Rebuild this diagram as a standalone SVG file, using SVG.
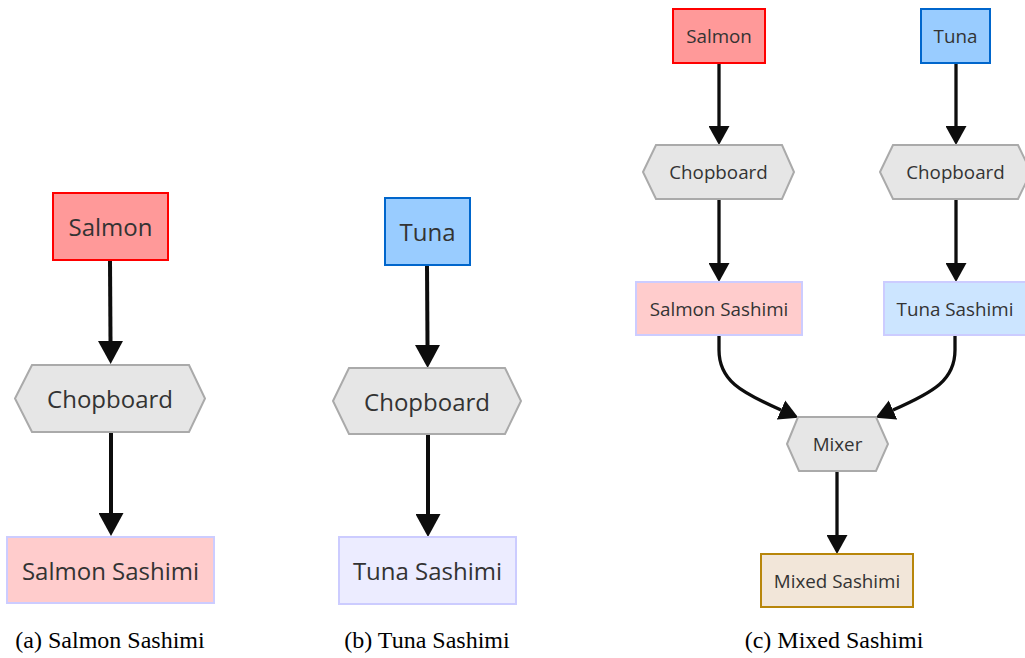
<svg xmlns="http://www.w3.org/2000/svg" width="1025" height="658" viewBox="0 0 1025 658">
  <style>
    .lbl { font-family: "Open Sans", "Noto Sans", sans-serif; fill: #333333; text-anchor: middle; dominant-baseline: central; }
    .big { font-size: 24px; }
    .small { font-size: 18.8px; }
    .cap { font-family: "Liberation Serif", "Times New Roman", serif; font-size: 24px; fill: #000000; text-anchor: middle; }
    .salmon { fill: #ff9999; stroke: #ff0000; stroke-width: 2; }
    .tuna { fill: #99ccff; stroke: #0066cc; stroke-width: 2; }
    .tool { fill: #e6e6e6; stroke: #aaaaaa; stroke-width: 2; }
    .sashimi-s { fill: #ffcccc; stroke: #ccccff; stroke-width: 2; }
    .sashimi-t { fill: #ececff; stroke: #ccccff; stroke-width: 2; }
    .sashimi-tc { fill: #cce5ff; stroke: #ccccff; stroke-width: 2; }
    .mixed { fill: #f2e6d9; stroke: #b8860b; stroke-width: 2; }
    .edge { fill: none; stroke: #0d0d0d; }
    .edge-big { stroke-width: 4; marker-end: url(#head-big); }
    .edge-small { stroke-width: 3.3; marker-end: url(#head-small); }
  </style>
  <defs>
    <marker id="head-big" markerUnits="userSpaceOnUse" markerWidth="25" markerHeight="25" viewBox="0 0 25 25" refX="0" refY="12.5" orient="auto">
      <path d="M0,0 L23,12.5 L0,25 z" fill="#0d0d0d"/>
    </marker>
    <marker id="head-small" markerUnits="userSpaceOnUse" markerWidth="21" markerHeight="21" viewBox="0 0 21 21" refX="0" refY="10.5" orient="auto">
      <path d="M0,0 L19,10.5 L0,21 z" fill="#0d0d0d"/>
    </marker>
  </defs>

  <rect width="1025" height="658" fill="#ffffff"/>

  <!-- connectors -->
  <g id="edges">
    <!-- (a) -->
    <path class="edge edge-big" d="M110,261 L110.5,341"/>
    <path class="edge edge-big" d="M111,433 L111,513"/>
    <!-- (b) -->
    <path class="edge edge-big" d="M427,266 L427.5,345"/>
    <path class="edge edge-big" d="M428,435 L428,514"/>
    <!-- (c) -->
    <path class="edge edge-small" d="M719,63 L719,126"/>
    <path class="edge edge-small" d="M719,199 L719,263"/>
    <path class="edge edge-small" d="M956,63 L956,126"/>
    <path class="edge edge-small" d="M956,199 L956,263"/>
    <path class="edge edge-small" d="M719,335 L719,350 C719,380 740,392 781,410"/>
    <path class="edge edge-small" d="M955,335 L955,350 C955,380 934,392 893,410"/>
    <path class="edge edge-small" d="M837,471 L837,535"/>
  </g>

  <!-- (a) Salmon Sashimi -->
  <g id="a-salmon">
    <rect class="salmon" x="53" y="193" width="115" height="67"/>
    <text class="lbl big" x="110.5" y="226">Salmon</text>
  </g>
  <g id="a-chopboard">
    <polygon class="tool" points="15,398.5 32,365 189,365 205,398.5 189,432 32,432"/>
    <text class="lbl big" x="110" y="398">Chopboard</text>
  </g>
  <g id="a-salmon-sashimi">
    <rect class="sashimi-s" x="7" y="537" width="207" height="66"/>
    <text class="lbl big" x="110.5" y="570">Salmon Sashimi</text>
  </g>
  <text class="cap" x="110" y="648">(a) Salmon Sashimi</text>

  <!-- (b) Tuna Sashimi -->
  <g id="b-tuna">
    <rect class="tuna" x="385" y="198" width="85" height="67"/>
    <text class="lbl big" x="427.5" y="231">Tuna</text>
  </g>
  <g id="b-chopboard">
    <polygon class="tool" points="333,401 349,368 505,368 521,401 505,434 349,434"/>
    <text class="lbl big" x="427" y="401">Chopboard</text>
  </g>
  <g id="b-tuna-sashimi">
    <rect class="sashimi-t" x="339" y="537" width="177" height="67"/>
    <text class="lbl big" x="427.5" y="570">Tuna Sashimi</text>
  </g>
  <text class="cap" x="427" y="648">(b) Tuna Sashimi</text>

  <!-- (c) Mixed Sashimi -->
  <g id="c-salmon">
    <rect class="salmon" x="673" y="9" width="92" height="54"/>
    <text class="lbl small" x="719" y="36">Salmon</text>
  </g>
  <g id="c-tuna">
    <rect class="tuna" x="921" y="9" width="69" height="54"/>
    <text class="lbl small" x="955.5" y="36">Tuna</text>
  </g>
  <g id="c-chopboard-salmon">
    <polygon class="tool" points="643,172 656,145 782,145 794,172 782,199 656,199"/>
    <text class="lbl small" x="718.5" y="172">Chopboard</text>
  </g>
  <g id="c-chopboard-tuna">
    <polygon class="tool" points="880,172 893,145 1018,145 1031,172 1018,199 893,199"/>
    <text class="lbl small" x="955.5" y="172">Chopboard</text>
  </g>
  <g id="c-salmon-sashimi">
    <rect class="sashimi-s" x="636" y="282" width="166" height="53"/>
    <text class="lbl small" x="719" y="308.5">Salmon Sashimi</text>
  </g>
  <g id="c-tuna-sashimi">
    <rect class="sashimi-tc" x="884" y="282" width="142" height="53"/>
    <text class="lbl small" x="955" y="308.5">Tuna Sashimi</text>
  </g>
  <g id="c-mixer">
    <polygon class="tool" points="787,444 798,417 876,417 888,444 876,471 799,471"/>
    <text class="lbl small" x="837.5" y="444">Mixer</text>
  </g>
  <g id="c-mixed-sashimi">
    <rect class="mixed" x="761" y="554" width="152" height="53"/>
    <text class="lbl small" x="837" y="580.5">Mixed Sashimi</text>
  </g>
  <text class="cap" x="834" y="648">(c) Mixed Sashimi</text>
</svg>
